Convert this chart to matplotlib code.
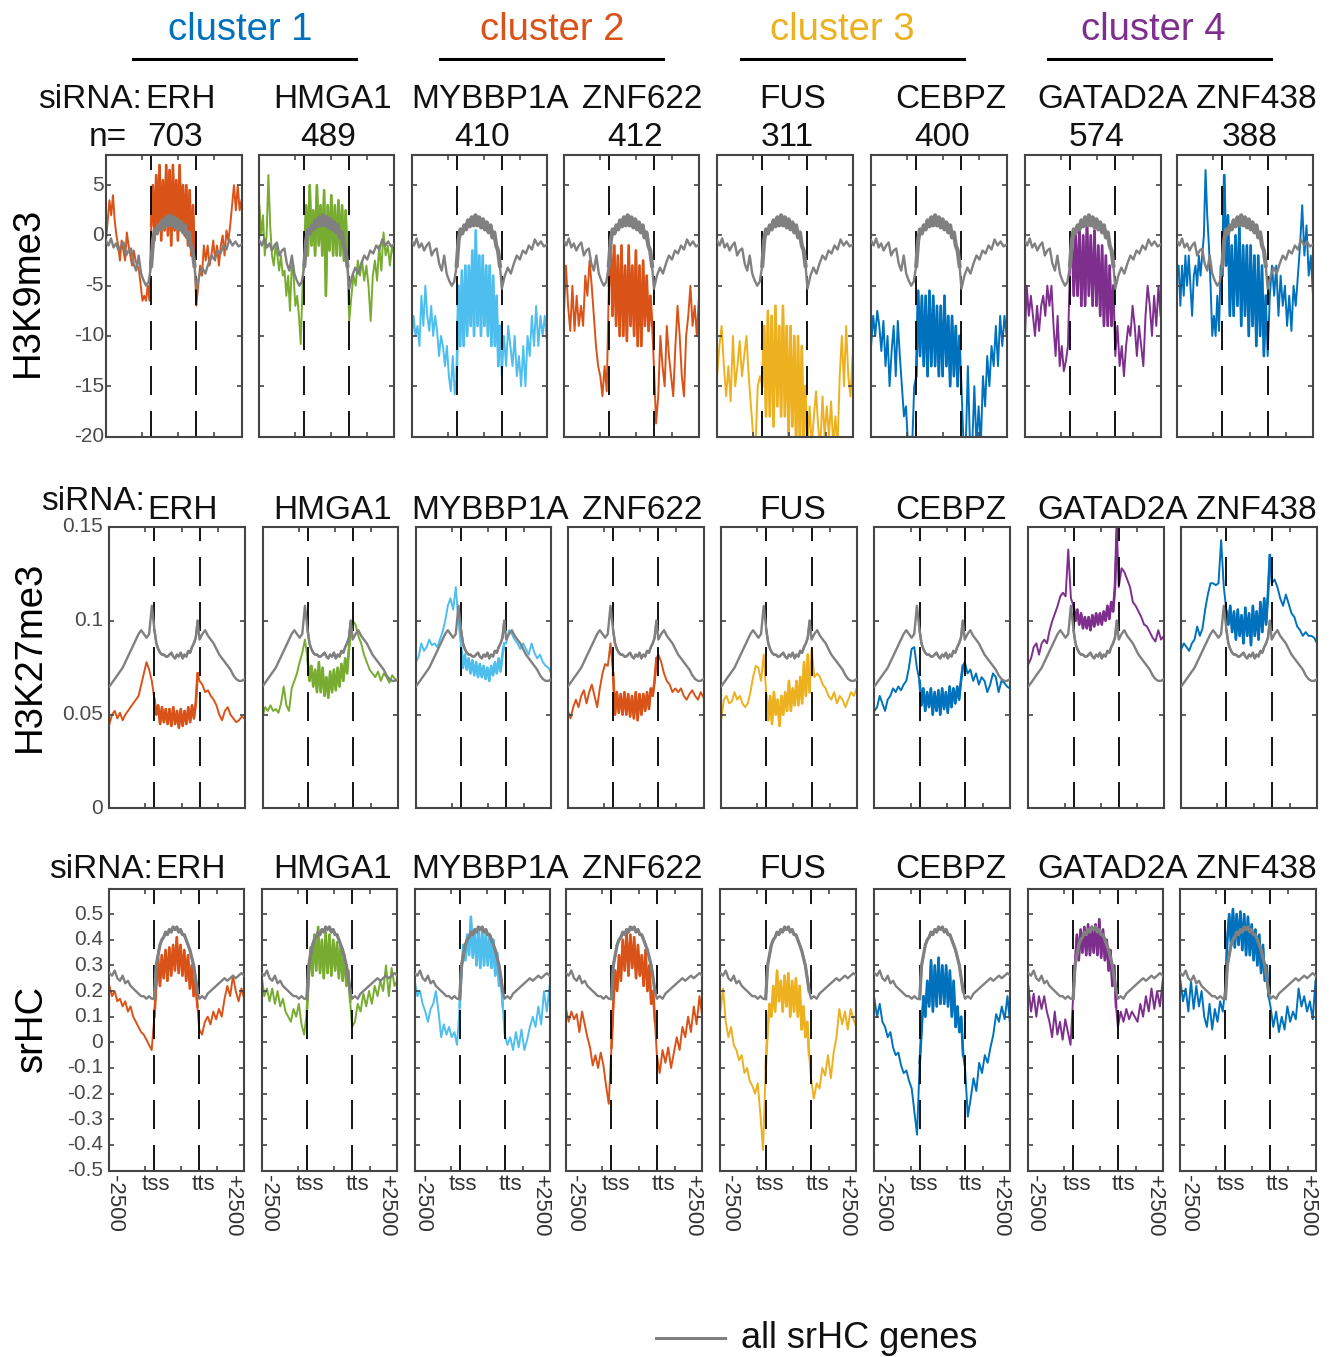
import matplotlib
matplotlib.use('Agg')
import matplotlib.pyplot as plt
from matplotlib.lines import Line2D
from matplotlib.transforms import ScaledTranslation
import numpy as np

plt.rcParams['font.family'] = ['Liberation Sans', 'DejaVu Sans']
plt.rcParams['lines.scale_dashes'] = False

W, H = 1334, 1357

# names and counts
genes = ['ERH', 'HMGA1', 'MYBBP1A', 'ZNF622', 'FUS', 'CEBPZ', 'GATAD2A', 'ZNF438']
counts = ['703', '489', '410', '412', '311', '400', '574', '388']
clusters = ['cluster 1', 'cluster 2', 'cluster 3', 'cluster 4']
marks = ['H3K9me3', 'H3K27me3', 'srHC']

# matlab line colours
orange = '#D95319'
green = '#77AC30'
sky = '#4DBEEE'
yellow = '#EDB120'
blue = '#0072BD'
purple = '#7E2F8E'
grey = '#808080'
cluster_colors = [blue, orange, yellow, purple]
gene_colors = [orange, green, sky, orange, yellow, blue, purple, blue]

# each profile is (upstream, gene body, downstream)
# grey reference, all srHC genes
k9_all = ([-0.5, -1, -0.3, -1.2, -0.8, -1.5, -1.0, -0.7, -2, -1.5, -1.3, -2.8, -3.5, -2.0, -3.8, -4.5, -5.0, -4.6],
          [-3, -0.5, 0.6, 0.2, 1, 0.6, 1.5, 0.9, 1.8, 1.0, 2.0, 1.0, 1.8, 0.8, 1.6, 0.6, 1.3, 0.3, 1.0, -0.2, 0.3, -1, -1.5, -3],
          [-5.3, -4, -3.2, -3.8, -2.8, -2, -2.4, -1.5, -1.8, -1.0, -1.4, -0.4, -1, -0.6, -1.1, -0.9])
k27_all = ([.065, .067, .069, .071, .073, .075, .078, .081, .084, .087, .090, .093, .095, .093, .091, .093, .108],
           [.095, .088, .085, .083, .082, .082, .081, .081, .082, .083, .081, .080, .082, .081, .083, .080, .082, .081, .084, .083, .086, .088, .091, .100],
           [.090, .093, .095, .092, .090, .088, .085, .082, .080, .078, .076, .074, .071, .069, .068, .068, .069])
hc_all = ([.27, .26, .28, .25, .24, .26, .23, .24, .22, .21, .20, .19, .18, .18, .17, .18, .17],
          [.17, .30, .34, .38, .40, .41, .43, .42, .44, .43, .45, .44, .45, .43, .44, .42, .42, .40, .38, .36, .33, .30, .25, .20],
          [.17, .18, .17, .19, .20, .21, .22, .23, .24, .25, .24, .25, .26, .25, .26, .27, .26])

# H3K9me3
k9_erh = ([-0.5, 1.5, 3.5, 2, 4, 1.5, 0, -1, -2.5, -0.5, -1.5, -2.5, 0.3, -1, -2, -3, -1.5, -2.5, -3, -3.5, -5, -6.5, -6, -6.5, -5, -6.5],
          [1, 5, -0.5, 6, 0.5, 7, -0.5, 5.5, 0.5, 7, 0, 6.5, -1, 7, 0.5, 5.5, -0.5, 7, 0.5, 5, 0, 5, -1, 4.5, -2, 3, -2.5],
          [-7, -5, -3, -4, -1, -2.5, -1, -3, -2, -0.5, -2.5, -1, -3, -1, 0, -2, 0.5, -0.5, 1, 3, 5, 2.5, 5, 2.5, 3.5])
k9_hmga1 = ([3, 0, 2, -2, 0, 6, 1, -2, -3, -1, -2, -3.5, -2, -4, -3.5, -6, -4, -7.5, -3, -4, -7, -6, -8, -10.8, -5],
            [-2, 3, -2, 5, -1, 2.5, -2, 5, -1, 3, -2, 4.5, -6, 3, -1.5, 4, -2, 3, -2, 3.5, -2, 3, -2.5, 2.5, -3],
            [-8.5, -6, -4, -5, -2.5, -4, -2.5, -4.5, -3, -5, -8.5, -4, -2.5, -4.5, -1, -3.5, 0.3, -2, -1, -3, -1, -2])
k9_mybbp1a = ([-10.5, -8, -10, -9, -11, -6, -9, -5, -8, -9.5, -7, -10, -8, -9.5, -12, -10, -11, -13, -11, -14, -15.5, -12, -15.8],
              [-14, -5, -11, -3.5, -11, -3, -10, -3, -9, -1.5, -10, 0.5, -9, -2, -10, -2, -9, -3, -10, -3, -11, -4, -11, -6, -13, -9],
              [-14, -10, -13, -9, -11, -13, -10, -14, -12, -15, -11, -15, -10, -12, -8, -11, -7, -11, -8, -10, -8, -10.5])
k9_znf622 = ([-8, -3, -7, -9.5, -5, -9.5, -6, -9, -7, -9, -4, -6, -2.5, -5, -8, -11, -13, -14, -16, -13, -15.5],
             [-5, 0, -8, -1, -9, -2, -10, -1, -10, -3, -10.5, -1, -9, -3, -10, -1.5, -11, -3, -11, -2.5, -9, -4, -9.5, -6, -9],
             [-13, -18.7, -16, -10, -13, -15, -9, -12, -14, -16, -11, -7, -10, -14, -16, -10, -8, -5, -9, -7, -10, -6])
k9_fus = ([-14, -11, -9, -13, -16, -13, -16.5, -10, -15, -13, -10.5, -14, -12, -10, -14, -17, -20, -21, -15, -14],
          [-15, -9, -18, -7.5, -18, -8, -19, -7, -17, -9, -18, -7, -18, -9, -20, -9, -19, -10, -21, -10, -21, -11, -21, -15],
          [-21, -17, -21, -18, -15.5, -19, -21, -16, -20, -17, -20, -16.5, -21, -18, -21, -14, -10, -15, -9, -14, -16, -12])
k9_cebpz = ([-11, -8, -10, -7.5, -9, -11.5, -8.5, -13, -10, -15, -11.5, -9, -14, -8.5, -12, -15, -18, -17, -21, -20, -21, -15],
            [-14, -5.5, -12, -6, -13, -6, -14, -5.5, -13, -6, -13, -7, -14, -7, -14, -6, -13, -8, -15, -8, -14, -9, -15, -10],
            [-15, -21, -21, -13, -21, -21, -15, -21, -17, -21, -14, -17, -12, -15, -11, -13, -9, -13, -8, -11, -8, -10])
k9_gatad2a = ([-11, -5, -8, -6, -8, -10, -7, -9.5, -7, -6, -8, -5, -7, -5, -9, -12, -8, -13, -11, -13.5, -12.5, -11],
              [-3, 0, -6, 0, -6, 1, -7, 0, -7, 1.5, -6, 0, -7, 0.5, -7, -1, -8, -1, -9, -2, -9, -3, -9, -5],
              [-12, -9, -13, -11, -14, -11, -9, -10, -7, -9, -12, -9, -11, -13, -8, -5, -7, -10, -6, -9, -5, -8])
k9_znf438 = ([-4, -3, -7, -3, -6, -2, -5, -2, -5, -8, -4, -3, -5, -2, -4, -2, 0, 6.5, 2, -1, -5, -10, -8, -10, -6, -9.5, -3],
             [-4, 6, -3, 2, -8, -1, -8, 0, -7, 1, -9, -1, -8, -1, -10, -1, -9, -2, -11, -2, -10, -3, -12, -6],
             [-12, -6, -3, -6, -3, -8, -4, -7, -5, -9, -6, -9.5, -5, -7, -4, -1, 3, -2, 1, -4, -2, -6])

# H3K27me3
k27_erh = ([.045, .050, .052, .048, .051, .047, .050, .052, .054, .056, .058, .060, .066, .072, .078, .074, .068],
           [.058, .050, .055, .045, .054, .046, .053, .045, .053, .044, .054, .045, .052, .043, .053, .044, .052, .045, .054, .046, .055, .048, .056, .072],
           [.068, .066, .062, .063, .060, .058, .055, .050, .047, .052, .054, .050, .048, .046, .047, .049, .048])
k27_hmga1 = ([.049, .054, .052, .055, .052, .053, .051, .056, .065, .055, .052, .064, .068, .072, .078, .083, .090],
             [.080, .068, .076, .065, .074, .062, .078, .062, .075, .060, .070, .059, .073, .062, .074, .063, .075, .065, .077, .068, .080, .072, .085, .095],
             [.100, .098, .092, .088, .082, .078, .074, .072, .070, .073, .068, .072, .070, .067, .071, .069, .068])
k27_mybbp1a = ([.078, .081, .088, .084, .086, .090, .087, .088, .086, .090, .094, .100, .108, .112, .106, .118, .100],
               [.086, .075, .082, .074, .080, .072, .079, .071, .078, .070, .077, .070, .076, .069, .075, .068, .076, .071, .078, .072, .080, .073, .082, .088],
               [.088, .095, .093, .090, .088, .085, .088, .085, .082, .088, .083, .080, .082, .078, .076, .075, .072])
k27_znf622 = ([.052, .048, .054, .058, .054, .060, .063, .056, .062, .066, .060, .054, .064, .072, .077, .076, .088],
              [.072, .050, .062, .051, .061, .050, .062, .050, .061, .049, .060, .048, .062, .047, .061, .050, .061, .052, .062, .053, .064, .060, .068, .080],
              [.082, .078, .072, .068, .066, .062, .064, .062, .064, .060, .058, .061, .063, .060, .058, .062, .059])
k27_fus = ([.047, .058, .060, .056, .057, .062, .058, .060, .056, .054, .056, .062, .070, .076, .075, .068, .082],
           [.060, .047, .060, .045, .062, .050, .058, .044, .060, .050, .062, .052, .068, .052, .064, .055, .068, .055, .070, .056, .078, .060, .082, .062],
           [.085, .070, .072, .070, .066, .064, .060, .058, .062, .056, .060, .058, .054, .058, .062, .060, .064])
k27_cebpz = ([.052, .054, .060, .056, .052, .058, .060, .064, .062, .065, .063, .066, .068, .075, .085, .086, .075],
             [.068, .055, .064, .052, .062, .054, .064, .050, .062, .052, .063, .050, .064, .053, .062, .051, .065, .054, .064, .056, .065, .058, .068, .076],
             [.078, .072, .074, .068, .072, .066, .070, .068, .062, .066, .072, .070, .062, .068, .067, .065, .064])
k27_gatad2a = ([.077, .080, .086, .088, .082, .088, .090, .088, .095, .100, .104, .108, .113, .115, .113, .138, .112],
               [.108, .100, .106, .098, .104, .096, .102, .096, .102, .095, .103, .097, .104, .098, .104, .098, .105, .100, .108, .101, .110, .105, .118, .150],
               [.118, .128, .126, .122, .118, .110, .108, .105, .102, .098, .097, .094, .091, .089, .095, .090, .092])
k27_znf438 = ([.085, .088, .086, .084, .088, .090, .097, .092, .096, .106, .114, .120, .120, .119, .120, .143, .118],
              [.105, .098, .108, .094, .105, .090, .106, .092, .103, .088, .107, .092, .104, .087, .108, .092, .105, .090, .110, .094, .112, .098, .114, .135],
              [.120, .122, .118, .112, .108, .114, .109, .104, .102, .097, .095, .092, .094, .092, .092, .091, .088])

# srHC
hc_erh = ([.22, .18, .20, .16, .17, .14, .16, .12, .14, .10, .08, .06, .04, .03, .01, -.01, -.03],
          [.10, .22, .33, .22, .34, .25, .36, .24, .37, .26, .38, .28, .41, .27, .38, .26, .36, .24, .34, .21, .30, .18, .24, .14],
          [.05, .03, .08, .10, .07, .12, .09, .13, .10, .17, .22, .18, .26, .20, .16, .21, .17])
hc_hmga1 = ([.26, .18, .21, .16, .21, .15, .20, .14, .17, .12, .10, .08, .13, .10, .15, .07, .03],
            [.12, .25, .37, .26, .42, .28, .45, .27, .40, .25, .43, .27, .42, .26, .40, .28, .39, .25, .38, .24, .34, .22, .28, .16],
            [.06, .08, .15, .12, .19, .14, .20, .15, .22, .18, .24, .20, .30, .18, .29, .22, .24])
hc_mybbp1a = ([.24, .18, .20, .15, .12, .08, .13, .15, .20, .12, .02, .07, .03, .06, .02, .04, -.01],
              [.14, .28, .38, .32, .42, .34, .49, .33, .44, .30, .44, .29, .44, .30, .43, .30, .42, .29, .40, .26, .35, .22, .26, .14],
              [.03, -.01, .02, -.03, .04, -.02, .05, -.03, .01, .06, .10, .06, .14, .07, .20, .12, .22])
hc_znf622 = ([.13, .08, .12, .09, .11, .04, .12, .07, .02, -.02, -.09, -.05, -.10, -.04, -.09, -.17, -.24],
             [-.02, .15, .28, .20, .34, .24, .40, .28, .43, .26, .42, .29, .41, .25, .38, .26, .34, .22, .36, .20, .30, .15, .20, .08],
             [-.05, -.12, -.03, -.08, -.02, -.10, -.04, .02, -.03, .06, .02, .10, .04, .14, .07, .18, .10])
hc_fus = ([.12, .21, .08, .02, .06, -.01, -.03, -.07, -.05, -.12, -.10, -.15, -.17, -.20, -.16, -.28, -.42],
          [-.10, .05, .15, .10, .22, .12, .28, .16, .24, .12, .26, .14, .27, .10, .24, .12, .25, .10, .22, .05, .14, .02, .08, -.05],
          [-.14, -.22, -.16, -.18, -.10, -.13, -.05, -.14, -.04, .02, .13, .07, .12, .05, .13, .09, .06])
hc_cebpz = ([.17, .10, .15, .08, .06, .02, .04, -.02, -.05, -.04, -.09, -.12, -.11, -.15, -.18, -.27, -.36],
            [-.08, .05, .18, .10, .24, .14, .32, .12, .30, .14, .33, .15, .30, .15, .30, .14, .28, .10, .24, .06, .14, .04, .10, -.05],
            [-.10, -.29, -.22, -.14, -.19, -.08, -.12, -.05, -.08, -.02, .03, .11, .08, .14, .09, .18, .06])
hc_gatad2a = ([.22, .12, .19, .10, .18, .13, .18, .12, .08, .02, .12, .03, .08, .01, .09, .04, -.01],
              [.18, .30, .42, .32, .44, .35, .45, .34, .46, .34, .45, .35, .46, .34, .48, .33, .44, .32, .40, .28, .36, .22, .30, .14],
              [.06, .12, .08, .13, .09, .12, .10, .08, .15, .10, .18, .12, .21, .13, .20, .14, .24])
hc_znf438 = ([.24, .16, .21, .12, .24, .13, .22, .14, .20, .10, .06, .15, .05, .13, .08, .16, .12],
             [.22, .40, .50, .38, .52, .37, .50, .38, .51, .36, .50, .34, .49, .34, .46, .32, .44, .30, .42, .27, .38, .24, .30, .18],
             [.14, .06, .12, .04, .10, .05, .14, .08, .12, .09, .21, .14, .18, .12, .16, .09, .24])

k9_rows = [k9_erh, k9_hmga1, k9_mybbp1a, k9_znf622, k9_fus, k9_cebpz, k9_gatad2a, k9_znf438]
k27_rows = [k27_erh, k27_hmga1, k27_mybbp1a, k27_znf622, k27_fus, k27_cebpz, k27_gatad2a, k27_znf438]
hc_rows = [hc_erh, hc_hmga1, hc_mybbp1a, hc_znf622, hc_fus, hc_cebpz, hc_gatad2a, hc_znf438]

# y axes per row
k9_ticks = [-20, -15, -10, -5, 0, 5]
k9_labels = ['-20', '-15', '-10', '-5', '0', '5']
k27_ticks = [0, 0.05, 0.1, 0.15]
k27_labels = ['0', '0.05', '0.1', '0.15']
hc_ticks = [-0.5, -0.4, -0.3, -0.2, -0.1, 0, 0.1, 0.2, 0.3, 0.4, 0.5]
hc_labels = ['-0.5', '-0.4', '-0.3', '-0.2', '-0.1', '0', '0.1', '0.2', '0.3', '0.4', '0.5']

# panel edges in pixels
k9_edges = [(106, 241.5), (259.4, 394.2), (411.6, 546.9), (563.8, 699), (717.1, 852.6), (871.1, 1006.6), (1024.7, 1160.6), (1177, 1313)]
k27_edges = [(109.4, 244.6), (262.5, 397.8), (416, 551.3), (567.9, 703.6), (721.2, 856.7), (874.4, 1009.9), (1028.4, 1163.9), (1181.2, 1317)]
hc_edges = [(109.4, 244.2), (261.6, 397.3), (414.7, 549.6), (566, 702.3), (720.4, 856.3), (874.4, 1010.3), (1028.4, 1162.7), (1180.4, 1315.5)]

frame = '#454545'
text_black = '#111111'


def px_text(x, y, s, **kw):
    kw.setdefault('ha', 'center')
    kw.setdefault('va', 'center')
    fig.text(x / W, 1 - y / H, s, **kw)


def px_line(x0, x1, y0, y1, **kw):
    fig.add_artist(Line2D([x0 / W, x1 / W], [1 - y0 / H, 1 - y1 / H], transform=fig.transFigure, **kw))


def xs(seg):
    # flanks and body each take one third of the axis
    return np.concatenate([np.linspace(0, 1, len(seg[0]), endpoint=False),
                           np.linspace(1, 2, len(seg[1]), endpoint=False),
                           np.linspace(2, 3, len(seg[2]))])


def draw_profile(ax, seg, color, lw, body_lw, z):
    x = xs(seg)
    y = np.concatenate(seg)
    ax.plot(x, y, color=color, lw=lw, zorder=z)
    # the gene body is so noisy it reads as a solid band
    a = len(seg[0])
    b = a + len(seg[1])
    ax.plot(x[a:b], y[a:b], color=color, lw=body_lw, zorder=z)


def panel(edges, top, bottom, seg, ref, color, ylim, ticks, labels, first, ref_body, pad):
    ax = fig.add_axes([edges[0] / W, 1 - bottom / H, (edges[1] - edges[0]) / W, (bottom - top) / H])
    draw_profile(ax, seg, color, 1.4, 1.9, 1)
    # dash period is 45 px, 29 on and 16 off
    for pos in [1, 2]:
        ax.axvline(pos, color='black', lw=1.3, linestyle=(2.2, (20.9, 11.5)), zorder=2)
    draw_profile(ax, ref, grey, 1.7, ref_body, 3)
    ax.set_xlim(0, 3)
    ax.set_ylim(*ylim)
    ax.set_xticks([0.8, 1.6, 2.4])
    ax.set_xticklabels([])
    ax.set_yticks(ticks)
    ax.set_yticklabels(labels if first else [])
    ax.tick_params(direction='in', top=True, right=True, length=3.5, width=1.2, color=frame,
                   labelsize=15, labelcolor='#4a4a4a', pad=pad)
    for lab in ax.get_yticklabels():
        lab.set_transform(lab.get_transform() + ScaledTranslation(0, 2 / 100, fig.dpi_scale_trans))
    for sp in ax.spines.values():
        sp.set_linewidth(1.5)
        sp.set_color(frame)
    return ax


fig = plt.figure(figsize=(W / 100, H / 100), dpi=100)

for i in range(8):
    panel(k9_edges[i], 155, 436.5, k9_rows[i], k9_all, gene_colors[i], (-20, 8), k9_ticks, k9_labels, i == 0, 3.0, 1.5)
    panel(k27_edges[i], 527, 808.5, k27_rows[i], k27_all, gene_colors[i], (0, 0.15), k27_ticks, k27_labels, i == 0, 1.7, 4.5)
    panel(hc_edges[i], 888.5, 1170.5, hc_rows[i], hc_all, gene_colors[i], (-0.5, 0.6), hc_ticks, hc_labels, i == 0, 2.3, 4.5)

# cluster headers
cluster_x = [240, 552, 842, 1153]
rule_x = [(133, 356), (440, 663), (741, 964), (1048, 1271)]
for name, cx, rx, c in zip(clusters, cluster_x, rule_x, cluster_colors):
    px_text(cx, 30, name, color=c, fontsize=27.5)
    px_line(rx[0], rx[1], 59, 59, color='black', lw=2.2)

# gene names above each row
name_x = [181, 332.5, 490, 642.5, 793, 951, 1113, 1256]
number_x = [175, 328.5, 482.5, 635.5, 787, 942.5, 1096.5, 1250]
for i in range(8):
    px_text(name_x[i], 99, genes[i], fontsize=24, color=text_black)
    px_text(number_x[i], 137, counts[i], fontsize=24, color=text_black)
    px_text(name_x[i] + (2 if i == 0 else 0), 511, genes[i], fontsize=24, color=text_black)
    px_text(name_x[i] + (10 if i == 0 else 0), 870, genes[i], fontsize=24, color=text_black)
px_text(90, 99, 'siRNA:', fontsize=24, color=text_black)
px_text(108, 137, 'n=', fontsize=24, color=text_black)
px_text(93, 502, 'siRNA:', fontsize=24, color=text_black)
px_text(101, 870, 'siRNA:', fontsize=24, color=text_black)

# row names
px_text(28, 292, marks[0], fontsize=27.5, rotation=90)
px_text(30, 656, marks[1], fontsize=27.5, rotation=90)
px_text(32, 1028, marks[2], fontsize=27.5, rotation=90)

# x labels under the last row
low_x = [114, 268, 422, 574, 729, 883, 1035, 1189]
tss_x = [156, 310, 463, 616, 770, 924, 1077, 1231]
tts_x = [203, 357, 510, 663, 817, 970, 1123, 1277]
high_x = [232, 386, 540, 692, 846, 1000, 1154, 1307]
for i in range(8):
    px_text(low_x[i], 1175, '-2500', fontsize=16, rotation=-90, va='top', color='#333333')
    px_text(tss_x[i], 1185, 'tss', fontsize=16, color='#333333')
    px_text(tts_x[i], 1185, 'tts', fontsize=16, color='#333333')
    px_text(high_x[i], 1175, '+2500', fontsize=16, rotation=-90, va='top', color='#333333')

# legend
px_line(656, 725, 1338, 1338, color=grey, lw=2.2)
px_text(741, 1339, 'all srHC genes', fontsize=26, ha='left', color=text_black)

plt.savefig('out.png', dpi=100)
